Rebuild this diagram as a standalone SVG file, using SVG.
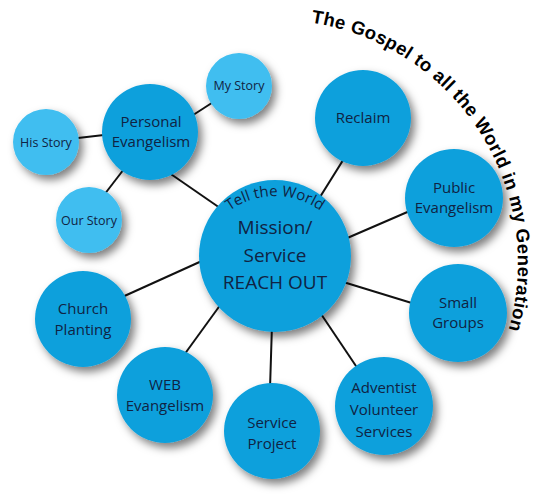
<svg xmlns="http://www.w3.org/2000/svg" xmlns:xlink="http://www.w3.org/1999/xlink" width="542" height="500" viewBox="0 0 542 500">
<style>
.main{fill:#0fa0dc;filter:url(#sh)}
.story{fill:#3fbef0;filter:url(#sh)}
.lbl{font-family:"Open Sans","Liberation Sans",Arial,sans-serif;font-size:15px;fill:#102343;text-anchor:middle}
.sm{font-size:12.5px}
.big{font-size:19px}
.title{font-family:"Liberation Sans",Arial,sans-serif;font-weight:bold;font-size:18.5px;fill:#000;letter-spacing:0.4px}
.conn line{stroke:#111;stroke-width:2}
</style>
<defs>
<filter id="sh" x="-30%" y="-30%" width="170%" height="170%">
<feDropShadow dx="4" dy="5" stdDeviation="4" flood-color="#000" flood-opacity="0.5"/>
</filter>
<path id="arcTitle" d="M 310.9 22.7 A 243 243 0 0 1 461.1 419.2" fill="none"/>
<path id="arcTell" d="M 207.5 235 A 78 78 0 0 1 342.5 235" fill="none"/>
</defs>
<rect width="542" height="500" fill="#fff"/>
<g id="title">
<text class="title"><textPath xlink:href="#arcTitle" href="#arcTitle" startOffset="0">The</textPath></text>
<text class="title"><textPath xlink:href="#arcTitle" href="#arcTitle" startOffset="39.6">Gospel</textPath></text>
<text class="title"><textPath xlink:href="#arcTitle" href="#arcTitle" startOffset="110.3">to</textPath></text>
<text class="title"><textPath xlink:href="#arcTitle" href="#arcTitle" startOffset="134.1">all</textPath></text>
<text class="title"><textPath xlink:href="#arcTitle" href="#arcTitle" startOffset="161.4">the</textPath></text>
<text class="title"><textPath xlink:href="#arcTitle" href="#arcTitle" startOffset="195.9">World</textPath></text>
<text class="title"><textPath xlink:href="#arcTitle" href="#arcTitle" startOffset="255.9">in</textPath></text>
<text class="title"><textPath xlink:href="#arcTitle" href="#arcTitle" startOffset="278.7">my</textPath></text>
<text class="title"><textPath xlink:href="#arcTitle" href="#arcTitle" startOffset="311.7">Generation</textPath></text>
</g>
<g class="conn" id="connectors">
<line x1="165" y1="170" x2="220" y2="208"/>
<line x1="190" y1="117" x2="218" y2="99"/>
<line x1="78" y1="138" x2="104" y2="135"/>
<line x1="124" y1="169" x2="104" y2="195"/>
<line x1="345" y1="157" x2="320" y2="197"/>
<line x1="412" y1="210" x2="345" y2="239"/>
<line x1="340" y1="281" x2="415" y2="304"/>
<line x1="317" y1="308" x2="360" y2="372"/>
<line x1="272" y1="325" x2="270" y2="388"/>
<line x1="221" y1="304" x2="184" y2="355"/>
<line x1="204" y1="260" x2="120" y2="298"/>
</g>
<g id="my-story"><circle class="story" cx="239" cy="86" r="33"/><text class="lbl sm" x="239" y="90">My Story</text></g>
<g id="his-story"><circle class="story" cx="46" cy="142" r="33"/><text class="lbl sm" x="46" y="147">His Story</text></g>
<g id="our-story"><circle class="story" cx="89" cy="220" r="33"/><text class="lbl sm" x="89" y="225">Our Story</text></g>
<g id="personal"><circle class="main" cx="150" cy="132" r="48"/><text class="lbl" x="151" y="127">Personal</text><text class="lbl" x="151" y="147">Evangelism</text></g>
<g id="reclaim"><circle class="main" cx="363" cy="118" r="48"/><text class="lbl" x="363" y="123">Reclaim</text></g>
<g id="public"><circle class="main" cx="454" cy="198" r="49"/><text class="lbl" x="454" y="193">Public</text><text class="lbl" x="454" y="213">Evangelism</text></g>
<g id="small-groups"><circle class="main" cx="458" cy="313" r="49"/><text class="lbl" x="458" y="308">Small</text><text class="lbl" x="458" y="328">Groups</text></g>
<g id="adventist"><circle class="main" cx="384" cy="406" r="49"/><text class="lbl" x="384" y="393">Adventist</text><text class="lbl" x="384" y="415">Volunteer</text><text class="lbl" x="384" y="437">Services</text></g>
<g id="service-project"><circle class="main" cx="272" cy="431" r="48"/><text class="lbl" x="272" y="428">Service</text><text class="lbl" x="272" y="449">Project</text></g>
<g id="web"><circle class="main" cx="165" cy="395" r="48"/><text class="lbl" x="165" y="390">WEB</text><text class="lbl" x="165" y="411">Evangelism</text></g>
<g id="church"><circle class="main" cx="83" cy="319" r="48"/><text class="lbl" x="83" y="314">Church</text><text class="lbl" x="83" y="335">Planting</text></g>
<g id="center"><circle class="main" cx="275" cy="256" r="76"/>
<text class="lbl" font-size="14"><textPath xlink:href="#arcTell" href="#arcTell" startOffset="50%">Tell the World</textPath></text>
<text class="lbl big" x="275" y="234">Mission/</text><text class="lbl big" x="275" y="262">Service</text><text class="lbl big" x="275" y="289">REACH OUT</text></g>
</svg>
